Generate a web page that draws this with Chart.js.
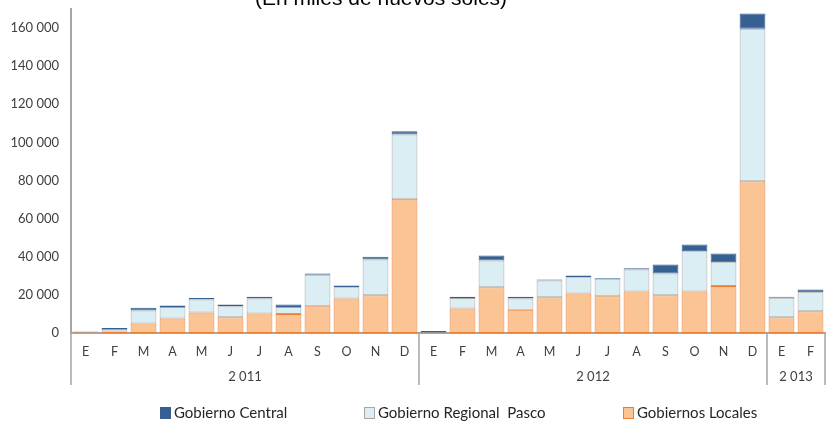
<!DOCTYPE html>
<html>
<head>
<meta charset="utf-8">
<script src="https://cdn.jsdelivr.net/npm/chart.js@4/dist/chart.umd.min.js"></script>
<style>
  html, body { margin: 0; padding: 0; background: #fff; }
  #wrap { width: 832px; height: 421px; position: relative; }
</style>
</head>
<body>
<div id="wrap"><canvas id="chart"></canvas></div>
<script>
// Months 2011 (Jan-Dec), 2012 (Jan-Dec), 2013 (Jan-Feb)
const MONTHS = ['E','F','M','A','M','J','J','A','S','O','N','D',
                'E','F','M','A','M','J','J','A','S','O','N','D',
                'E','F'];
const YEARS = ['2 011', '2 012', '2 013'];
const YEAR_SPANS = [12, 12, 2];

// Miles de nuevos soles
const LOCALES = [300, 800, 5000, 7600, 10800, 8300, 10200, 10000, 14100, 18100, 19800, 70400,
                 100, 12900, 24000, 12200, 18800, 20700, 19300, 21800, 19800, 21800, 24600, 79600,
                 8300, 11400];
const REGIONAL = [500, 1300, 6800, 6100, 6800, 5800, 7900, 3700, 16400, 5900, 18800, 33700,
                  200, 5400, 14000, 5900, 8700, 8600, 9100, 11500, 11400, 21100, 12500, 80000,
                  10200, 10000];
const CENTRAL = [100, 500, 1400, 700, 800, 800, 900, 1200, 700, 900, 1400, 1800,
                 700, 700, 2700, 900, 600, 900, 500, 700, 4700, 3500, 4600, 8000,
                 500, 1400];

const Y_TICKS = [0, 20000, 40000, 60000, 80000, 100000, 120000, 140000, 160000];

const AXIS_GREY = '#a6a6a6';
const TEXT = '#404040';

function fmt(v) {
  return String(v).replace(/\B(?=(\d{3})+(?!\d))/g, ' ');
}

// title (cut off at the top like the original)
const titlePlugin = {
  id: 'cutTitle',
  afterDraw(chart) {
    const ctx = chart.ctx;
    ctx.save();
    ctx.font = '21px "Liberation Sans", Arial, sans-serif';
    ctx.fillStyle = '#000';
    ctx.textAlign = 'center';
    ctx.textBaseline = 'alphabetic';
    ctx.fillText('(En miles de nuevos soles)', 381, 4.5);
    ctx.restore();
  }
};

// year groups under the month labels
const yearGroups = {
  id: 'yearGroups',
  afterDraw(chart) {
    const x = chart.scales.x;
    const ctx = chart.ctx;
    const bottom = chart.chartArea.bottom;
    const half = (x.getPixelForValue(1) - x.getPixelForValue(0)) / 2;
    ctx.save();
    ctx.strokeStyle = AXIS_GREY;
    ctx.lineWidth = 1.5;
    ctx.fillStyle = TEXT;
    ctx.font = '13px Lato, sans-serif';
    ctx.textAlign = 'center';
    ctx.textBaseline = 'middle';
    let start = 0;
    const edges = [0];
    YEARS.forEach((y, i) => {
      const end = start + YEAR_SPANS[i];
      const left = x.getPixelForValue(start) - half;
      const right = x.getPixelForValue(end - 1) + half;
      ctx.fillText(y, (left + right) / 2, bottom + 44);
      edges.push(end);
      start = end;
    });
    edges.forEach(e => {
      const px = e < MONTHS.length ? x.getPixelForValue(e) - half : x.getPixelForValue(e - 1) + half;
      ctx.beginPath();
      ctx.moveTo(px, bottom);
      ctx.lineTo(px, bottom + 52);
      ctx.stroke();
    });
    ctx.restore();
  }
};

// legend placed like the original
const customLegend = {
  id: 'customLegend',
  afterDraw(chart) {
    const ctx = chart.ctx;
    const items = [
      { ds: chart.data.datasets[2], x: 160 },
      { ds: chart.data.datasets[1], x: 364 },
      { ds: chart.data.datasets[0], x: 623 },
    ];
    ctx.save();
    ctx.font = '15px Lato, sans-serif';
    ctx.textBaseline = 'middle';
    ctx.textAlign = 'left';
    items.forEach(it => {
      ctx.fillStyle = it.ds.backgroundColor;
      ctx.fillRect(it.x, 407, 10, 11);
      ctx.strokeStyle = it.ds.borderColor;
      ctx.lineWidth = 1;
      ctx.strokeRect(it.x + 0.5, 407.5, 10, 11);
      ctx.fillStyle = '#262626';
      ctx.fillText(it.ds.label, it.x + 14, 413);
    });
    ctx.restore();
  }
};

new Chart(document.getElementById('chart'), {
  type: 'bar',
  data: {
    labels: MONTHS,
    datasets: [
      {
        label: 'Gobiernos Locales',
        data: LOCALES,
        backgroundColor: '#fac494',
        borderColor: '#ed7d31',
        borderWidth: 1,
        borderSkipped: false,
      },
      {
        label: 'Gobierno Regional  Pasco',
        data: REGIONAL,
        backgroundColor: '#dbeef4',
        borderColor: '#a6a6a6',
        borderWidth: 1,
        borderSkipped: false,
      },
      {
        label: 'Gobierno Central',
        data: CENTRAL,
        backgroundColor: '#376092',
        borderColor: '#376092',
        borderWidth: 1,
        borderSkipped: false,
      },
    ]
  },
  options: {
    responsive: true,
    maintainAspectRatio: false,
    animation: false,
    barPercentage: 0.89,
    categoryPercentage: 1,
    layout: { padding: { top: 9, right: 7, bottom: 36, left: 0 } },
    plugins: {
      legend: { display: false },
      tooltip: { enabled: false },
    },
    scales: {
      x: {
        stacked: true,
        grid: { display: false, drawTicks: false },
        border: { color: AXIS_GREY, width: 2 },
        ticks: { color: TEXT, font: { family: 'Lato', size: 12.5 }, padding: 11, autoSkip: false, maxRotation: 0 },
        afterFit: s => { s.height = 52; s.paddingLeft = 0; s.paddingRight = 0; },
      },
      y: {
        stacked: true,
        min: 0,
        max: 170000,
        grid: { display: false, drawTicks: false },
        border: { color: AXIS_GREY, width: 2 },
        afterBuildTicks: s => { s.ticks = Y_TICKS.map(v => ({ value: v })); },
        ticks: { color: TEXT, font: { family: 'Lato', size: 13 }, padding: 12, callback: v => fmt(v) },
        afterFit: s => { s.width = 71; s.paddingTop = 0; s.paddingBottom = 0; },
      }
    }
  },
  plugins: [titlePlugin, yearGroups, customLegend]
});
</script>
</body>
</html>
